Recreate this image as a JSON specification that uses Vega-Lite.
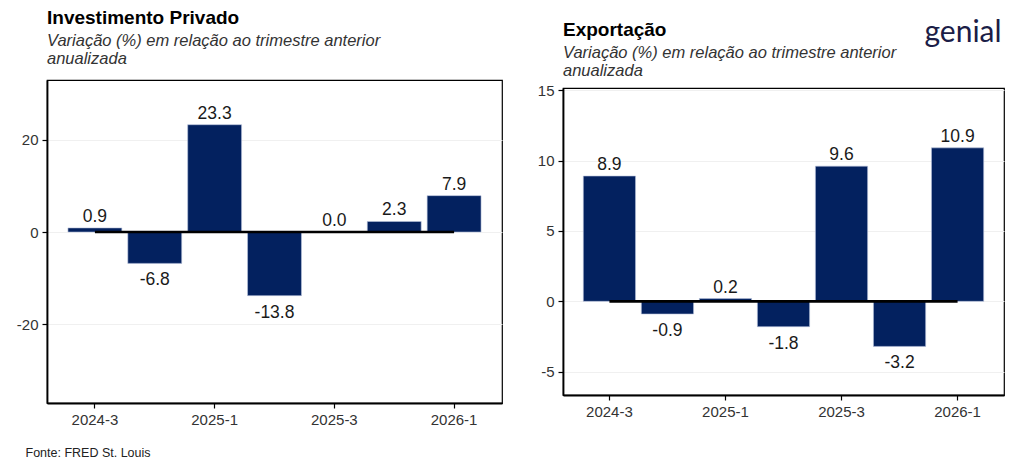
{
  "$schema": "https://vega.github.io/schema/vega-lite/v6.json",
  "background": "white",
  "padding": {"left": 15, "top": 7, "right": 5, "bottom": 5},
  "datasets": {
    "inv": [
      {"trimestre": "2024-3", "valor": 0.9},
      {"trimestre": "2024-4", "valor": -6.8},
      {"trimestre": "2025-1", "valor": 23.3},
      {"trimestre": "2025-2", "valor": -13.8},
      {"trimestre": "2025-3", "valor": 0.0},
      {"trimestre": "2025-4", "valor": 2.3},
      {"trimestre": "2026-1", "valor": 7.9}
    ],
    "exp": [
      {"trimestre": "2024-3", "valor": 8.9},
      {"trimestre": "2024-4", "valor": -0.9},
      {"trimestre": "2025-1", "valor": 0.2},
      {"trimestre": "2025-2", "valor": -1.8},
      {"trimestre": "2025-3", "valor": 9.6},
      {"trimestre": "2025-4", "valor": -3.2},
      {"trimestre": "2026-1", "valor": 10.9}
    ]
  },
  "title": {
    "text": "genial",
    "orient": "top",
    "anchor": "end",
    "frame": "bounds",
    "font": "Lato",
    "fontSize": 30,
    "fontWeight": "normal",
    "color": "#1b1d47",
    "baseline": "alphabetic",
    "offset": 0,
    "dx": -3,
    "dy": 64
  },
  "bounds": "flush",
  "spacing": 61,
  "hconcat": [
    {
      "width": 455,
      "height": 323,
      "data": {"name": "inv"},
      "title": {
        "text": "Investimento Privado",
        "subtitle": ["Variação (%) em relação ao trimestre anterior", "\u00a0anualizada"],
        "offset": 13
      },
      "encoding": {
        "x": {
          "field": "trimestre",
          "type": "ordinal",
          "sort": null,
          "scale": {
            "domain": ["2024-3", "2024-4", "2025-1", "2025-2", "2025-3", "2025-4", "2026-1"],
            "paddingInner": 0.1,
            "paddingOuter": 0.35
          },
          "axis": {
            "values": ["2024-3", "2025-1", "2025-3", "2026-1"],
            "title": "Fonte: FRED St. Louis",
            "titleX": -22,
            "titleY": 53,
            "titleAlign": "left",
            "titleBaseline": "alphabetic",
            "titleFontSize": 12.5,
            "titleFontWeight": "normal",
            "titleColor": "#222"
          }
        },
        "y": {
          "field": "valor",
          "type": "quantitative",
          "scale": {"domain": [-37.1, 33.0], "nice": false, "zero": false},
          "axis": {"title": null, "values": [-20, 0, 20]}
        }
      },
      "layer": [
        {"mark": {"type": "bar", "color": "#03215F", "stroke": "#b8c2dc", "strokeWidth": 0.6}},
        {
          "mark": {"type": "line", "color": "black", "strokeWidth": 2.6},
          "encoding": {"y": {"datum": 0, "type": "quantitative"}}
        },
        {
          "transform": [{"filter": "datum.valor >= 0"}],
          "mark": {"type": "text", "baseline": "alphabetic", "dy": -6},
          "encoding": {"text": {"field": "valor", "format": ".1f"}}
        },
        {
          "transform": [{"filter": "datum.valor < 0"}],
          "mark": {"type": "text", "baseline": "top", "dy": 8},
          "encoding": {"text": {"field": "valor", "format": ".1f"}}
        }
      ]
    },
    {
      "title": {
        "text": "Exportação",
        "subtitle": ["Variação (%) em relação ao trimestre anterior", "\u00a0anualizada"],
        "offset": 1
      },
      "bounds": "flush",
      "spacing": 7,
      "vconcat": [
        {
          "width": 441,
          "height": 1,
          "data": {"values": []},
          "mark": {"type": "point", "opacity": 0},
          "view": {"stroke": null}
        },
        {
          "width": 441,
          "height": 307,
          "data": {"name": "exp"},
          "encoding": {
            "x": {
              "field": "trimestre",
              "type": "ordinal",
              "sort": null,
              "scale": {
                "domain": ["2024-3", "2024-4", "2025-1", "2025-2", "2025-3", "2025-4", "2026-1"],
                "paddingInner": 0.1,
                "paddingOuter": 0.35
              },
              "axis": {"values": ["2024-3", "2025-1", "2025-3", "2026-1"], "title": null}
            },
            "y": {
              "field": "valor",
              "type": "quantitative",
              "scale": {"domain": [-6.65, 15.15], "nice": false, "zero": false},
              "axis": {"title": null, "values": [-5, 0, 5, 10, 15]}
            }
          },
          "layer": [
            {"mark": {"type": "bar", "color": "#03215F", "stroke": "#b8c2dc", "strokeWidth": 0.6}},
            {
              "mark": {"type": "line", "color": "black", "strokeWidth": 2.6},
              "encoding": {"y": {"datum": 0, "type": "quantitative"}}
            },
            {
              "transform": [{"filter": "datum.valor >= 0"}],
              "mark": {"type": "text", "baseline": "alphabetic", "dy": -6},
              "encoding": {"text": {"field": "valor", "format": ".1f"}}
            },
            {
              "transform": [{"filter": "datum.valor < 0"}],
              "mark": {"type": "text", "baseline": "top", "dy": 8},
              "encoding": {"text": {"field": "valor", "format": ".1f"}}
            }
          ]
        }
      ]
    }
  ],
  "config": {
    "font": "Liberation Sans",
    "locale": {
      "number": {"decimal": ".", "thousands": ",", "grouping": [3], "currency": ["$", ""], "minus": "-"}
    },
    "view": {"stroke": "black", "strokeWidth": 1.2},
    "title": {
      "anchor": "start",
      "frame": "group",
      "fontSize": 19,
      "fontWeight": "bold",
      "color": "black",
      "subtitleFontSize": 16.5,
      "subtitleFontStyle": "italic",
      "subtitleColor": "#333",
      "subtitleLineHeight": 18,
      "subtitlePadding": 5,
      "offset": 11
    },
    "axis": {
      "labelFontSize": 15,
      "labelColor": "#333",
      "tickColor": "black",
      "tickSize": 5,
      "tickWidth": 1.2,
      "domainColor": "black",
      "domainWidth": 1.8,
      "labelPadding": 4,
      "gridColor": "#f0f0f0",
      "gridWidth": 1
    },
    "axisX": {"labelAngle": 0, "grid": false},
    "axisY": {"grid": true},
    "text": {"fontSize": 17.5, "color": "#1a1a1a"}
  }
}
